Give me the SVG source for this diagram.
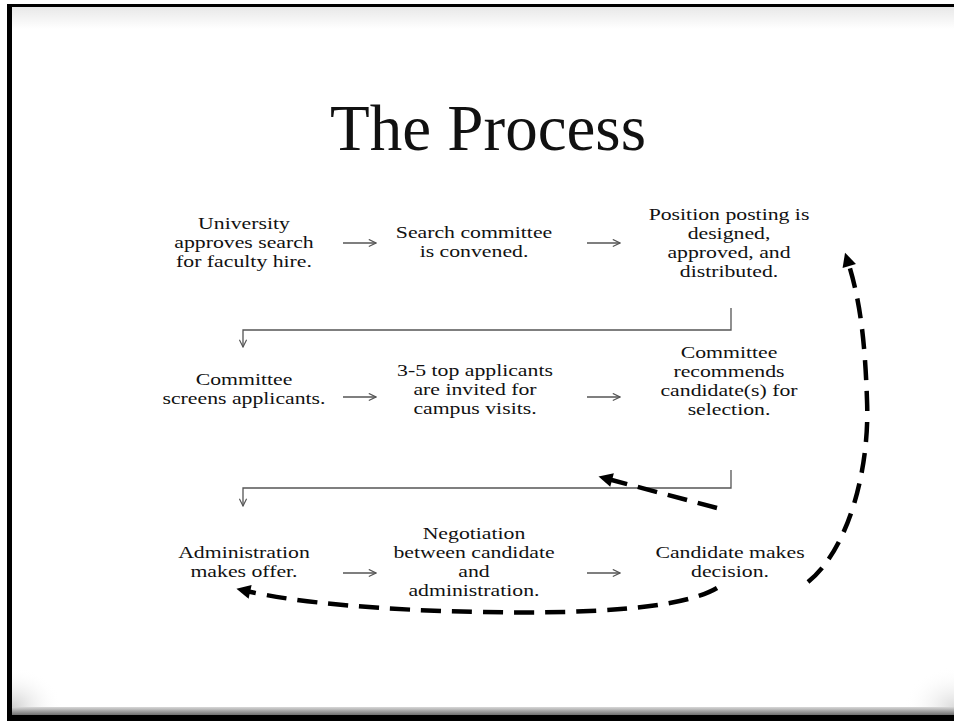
<svg xmlns="http://www.w3.org/2000/svg" width="954" height="721" viewBox="0 0 954 721">
<style>
.t{font-family:"Liberation Serif","Times New Roman",serif;font-size:17px;fill:#111;text-anchor:middle}
.title{font-family:"Liberation Serif","Times New Roman",serif;font-size:65px;fill:#111;text-anchor:middle}
.conn{fill:none;stroke:#555;stroke-width:1.3}
.dash{fill:none;stroke:#000;stroke-width:4.5;stroke-dasharray:20 11}
</style>
<defs>
<linearGradient id="topg" x1="0" y1="0" x2="0" y2="1"><stop offset="0" stop-color="#e8e8e8"/><stop offset="1" stop-color="#fff"/></linearGradient>
<linearGradient id="botg" x1="0" y1="0" x2="0" y2="1"><stop offset="0" stop-color="#d8d8d8"/><stop offset="1" stop-color="#707070"/></linearGradient>
<radialGradient id="corner" cx="0" cy="1" r="1"><stop offset="0" stop-color="#d0d0d0"/><stop offset="1" stop-color="#fff" stop-opacity="0"/></radialGradient>
<radialGradient id="corner2" cx="1" cy="1" r="1"><stop offset="0" stop-color="#dcdcdc"/><stop offset="1" stop-color="#fff" stop-opacity="0"/></radialGradient>
<marker id="open" viewBox="0 0 10 10" refX="9" refY="5" markerWidth="9" markerHeight="9" markerUnits="userSpaceOnUse" orient="auto"><path d="M1,1 L9,5 L1,9" fill="none" stroke="#555" stroke-width="1.3"/></marker>
<marker id="bold" viewBox="0 0 10 10" refX="3" refY="5" markerWidth="16" markerHeight="14" markerUnits="userSpaceOnUse" orient="auto"><path d="M0,0 L10,5 L0,10 z" fill="#000"/></marker>
</defs>
<g id="frame">
<rect x="0" y="0" width="954" height="721" fill="#fff"/>
<rect x="12" y="7" width="942" height="22" fill="url(#topg)"/>
<rect x="12" y="667" width="50" height="40" fill="url(#corner)"/>
<rect x="904" y="667" width="50" height="40" fill="url(#corner2)"/>
<rect x="7" y="707" width="947" height="8" fill="url(#botg)"/>
<rect x="7" y="715" width="947" height="6" fill="#000"/>
<rect x="7" y="4" width="947" height="3" fill="#000"/>
<rect x="7" y="4" width="5" height="717" fill="#000"/>
</g>
<text class="title" x="488" y="150">The Process</text>
<g id="n1" transform="translate(244,0) scale(1.28,1)"><text class="t" x="0" y="229">University</text><text class="t" x="0" y="248">approves search</text><text class="t" x="0" y="267">for faculty hire.</text></g>
<g id="n2" transform="translate(474,0) scale(1.28,1)"><text class="t" x="0" y="238">Search committee</text><text class="t" x="0" y="257">is convened.</text></g>
<g id="n3" transform="translate(729,0) scale(1.28,1)"><text class="t" x="0" y="220">Position posting is</text><text class="t" x="0" y="239">designed,</text><text class="t" x="0" y="258">approved, and</text><text class="t" x="0" y="277">distributed.</text></g>
<g id="n4" transform="translate(244,0) scale(1.28,1)"><text class="t" x="0" y="385">Committee</text><text class="t" x="0" y="404">screens applicants.</text></g>
<g id="n5" transform="translate(475,0) scale(1.28,1)"><text class="t" x="0" y="376">3-5 top applicants</text><text class="t" x="0" y="395">are invited for</text><text class="t" x="0" y="414">campus visits.</text></g>
<g id="n6" transform="translate(729,0) scale(1.28,1)"><text class="t" x="0" y="358">Committee</text><text class="t" x="0" y="377">recommends</text><text class="t" x="0" y="396">candidate(s) for</text><text class="t" x="0" y="415">selection.</text></g>
<g id="n7" transform="translate(244,0) scale(1.28,1)"><text class="t" x="0" y="558">Administration</text><text class="t" x="0" y="577">makes offer.</text></g>
<g id="n8" transform="translate(474,0) scale(1.28,1)"><text class="t" x="0" y="539">Negotiation</text><text class="t" x="0" y="558">between candidate</text><text class="t" x="0" y="577">and</text><text class="t" x="0" y="596">administration.</text></g>
<g id="n9" transform="translate(730,0) scale(1.28,1)"><text class="t" x="0" y="558">Candidate makes</text><text class="t" x="0" y="577">decision.</text></g>
<g id="connectors">
<path class="conn" d="M343,243 H376" marker-end="url(#open)"/>
<path class="conn" d="M587,243 H620" marker-end="url(#open)"/>
<path class="conn" d="M731,308 V330 H243 V347" marker-end="url(#open)"/>
<path class="conn" d="M343,397 H376" marker-end="url(#open)"/>
<path class="conn" d="M587,397 H620" marker-end="url(#open)"/>
<path class="conn" d="M731,470 V488 H243 V506" marker-end="url(#open)"/>
<path class="conn" d="M343,573 H376" marker-end="url(#open)"/>
<path class="conn" d="M587,573 H620" marker-end="url(#open)"/>
<path class="dash" d="M717,508 L608,479" marker-end="url(#bold)"/>
<path class="dash" d="M808,582 C848,550 870,470 867,400 C865,340 860,300 848,262" marker-end="url(#bold)"/>
<path class="dash" d="M717,588 C680,610 580,614 480,612 C380,610 300,603 246,591" marker-end="url(#bold)"/>
</g>
</svg>
